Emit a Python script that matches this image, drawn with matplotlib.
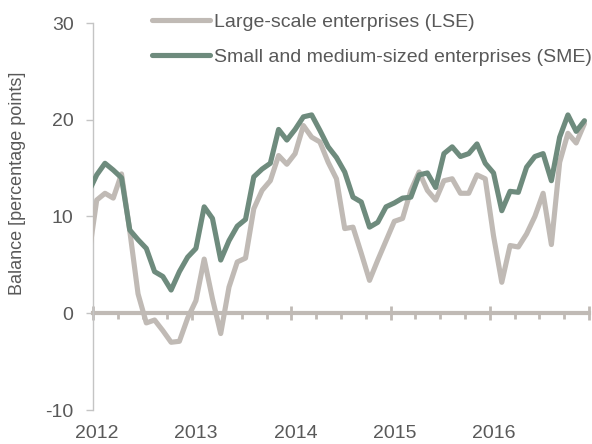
import numpy as np
import matplotlib
matplotlib.use('Agg')
import matplotlib.pyplot as plt
from matplotlib.ticker import MultipleLocator

# データ（2011年12月〜2016年12月、月次）
start_year = 2011 + 11 / 12
lse = [5.7,
       11.7, 12.4, 11.9, 14.4, 8.5, 2.0, -1.0, -0.7, -1.8, -3.0, -2.9, -0.5,
       1.3, 5.6, 1.5, -2.1, 2.7, 5.3, 5.7, 10.8, 12.7, 13.7, 16.3, 15.4,
       16.5, 19.4, 18.2, 17.7, 15.6, 13.9, 8.75, 8.9, 6.2, 3.4, 5.5, 7.5,
       9.5, 9.8, 12.7, 14.6, 12.7, 11.7, 13.7, 13.9, 12.4, 12.4, 14.3, 13.9,
       8.0, 3.2, 7.0, 6.85, 8.2, 10.0, 12.4, 7.1, 15.6, 18.6, 17.6, 19.6]
sme = [12.5,
       14.3, 15.5, 14.8, 14.0, 8.6, 7.6, 6.7, 4.3, 3.8, 2.4, 4.3, 5.8,
       6.7, 11.0, 9.8, 5.5, 7.5, 9.0, 9.7, 14.1, 14.9, 15.5, 19.0, 17.9,
       19.0, 20.3, 20.5, 18.9, 17.2, 16.1, 14.6, 12.0, 11.5, 8.9, 9.4, 11.0,
       11.4, 11.9, 12.0, 14.3, 14.5, 13.0, 16.5, 17.2, 16.2, 16.5, 17.5, 15.5,
       14.5, 10.6, 12.6, 12.5, 15.1, 16.2, 16.5, 13.7, 18.2, 20.5, 18.8, 19.9]
years = [2012, 2013, 2014, 2015, 2016]
yticks = [-10, 0, 10, 20, 30]

labels = ['Large-scale enterprises (LSE)',
          'Small and medium-sized enterprises (SME)']
colors = ['#c0bab5', '#6e8b7d']
text_color = '#595959'

plt.rcParams['font.family'] = ['Liberation Sans', 'DejaVu Sans']
plt.rcParams['axes.unicode_minus'] = False

x = start_year + (np.arange(len(lse)) + 0.45) / 12

fig = plt.figure(figsize=(5.92, 4.44), dpi=100)
ax = fig.add_axes([93 / 592, 1 - 410 / 444, 496 / 592, 387 / 444])

ax.plot(x, lse, color=colors[0], lw=3.7, label=labels[0],
        solid_joinstyle='round', solid_capstyle='round', zorder=3)
ax.plot(x, sme, color=colors[1], lw=3.7, label=labels[1],
        solid_joinstyle='round', solid_capstyle='round', zorder=4)

ax.set_xlim(2012, 2017)
ax.set_ylim(-10, 30)

# 軸の設定
for s in ['top', 'right']:
    ax.spines[s].set_visible(False)
ax.spines['left'].set_color('#c4c4c4')
ax.spines['left'].set_linewidth(1)
ax.spines['bottom'].set_position(('data', 0))
ax.spines['bottom'].set_color(colors[0])
ax.spines['bottom'].set_linewidth(3)
ax.spines['bottom'].set_zorder(2)

ax.set_xticks(years + [2017])
ax.xaxis.set_minor_locator(MultipleLocator(0.25))
ax.tick_params(axis='x', which='major', direction='inout', length=10,
               width=2, color=colors[0], labelbottom=False)
ax.tick_params(axis='x', which='minor', direction='out', length=4,
               width=2, color=colors[0])

ax.set_yticks(yticks)
ax.tick_params(axis='y', direction='out', length=5, width=1, color='#c4c4c4',
               labelsize=14, labelcolor=text_color, pad=9)

for yr in years:
    ax.text(yr + 0.04, -0.06, str(yr), transform=ax.get_xaxis_transform(),
            ha='center', va='center', fontsize=14, color=text_color)

ax.set_ylabel('Balance [percentage points]', fontsize=13, color=text_color)
ax.yaxis.set_label_coords(-0.135, 0.587)

ax.legend(loc='upper left', bbox_to_anchor=(152 / 592, 0.970),
          bbox_transform=fig.transFigure, frameon=False, fontsize=14,
          labelcolor=text_color, handlelength=3, handletextpad=0.2,
          labelspacing=0.88, borderpad=0, borderaxespad=0)

plt.savefig('out.png', dpi=100)
plt.close()
